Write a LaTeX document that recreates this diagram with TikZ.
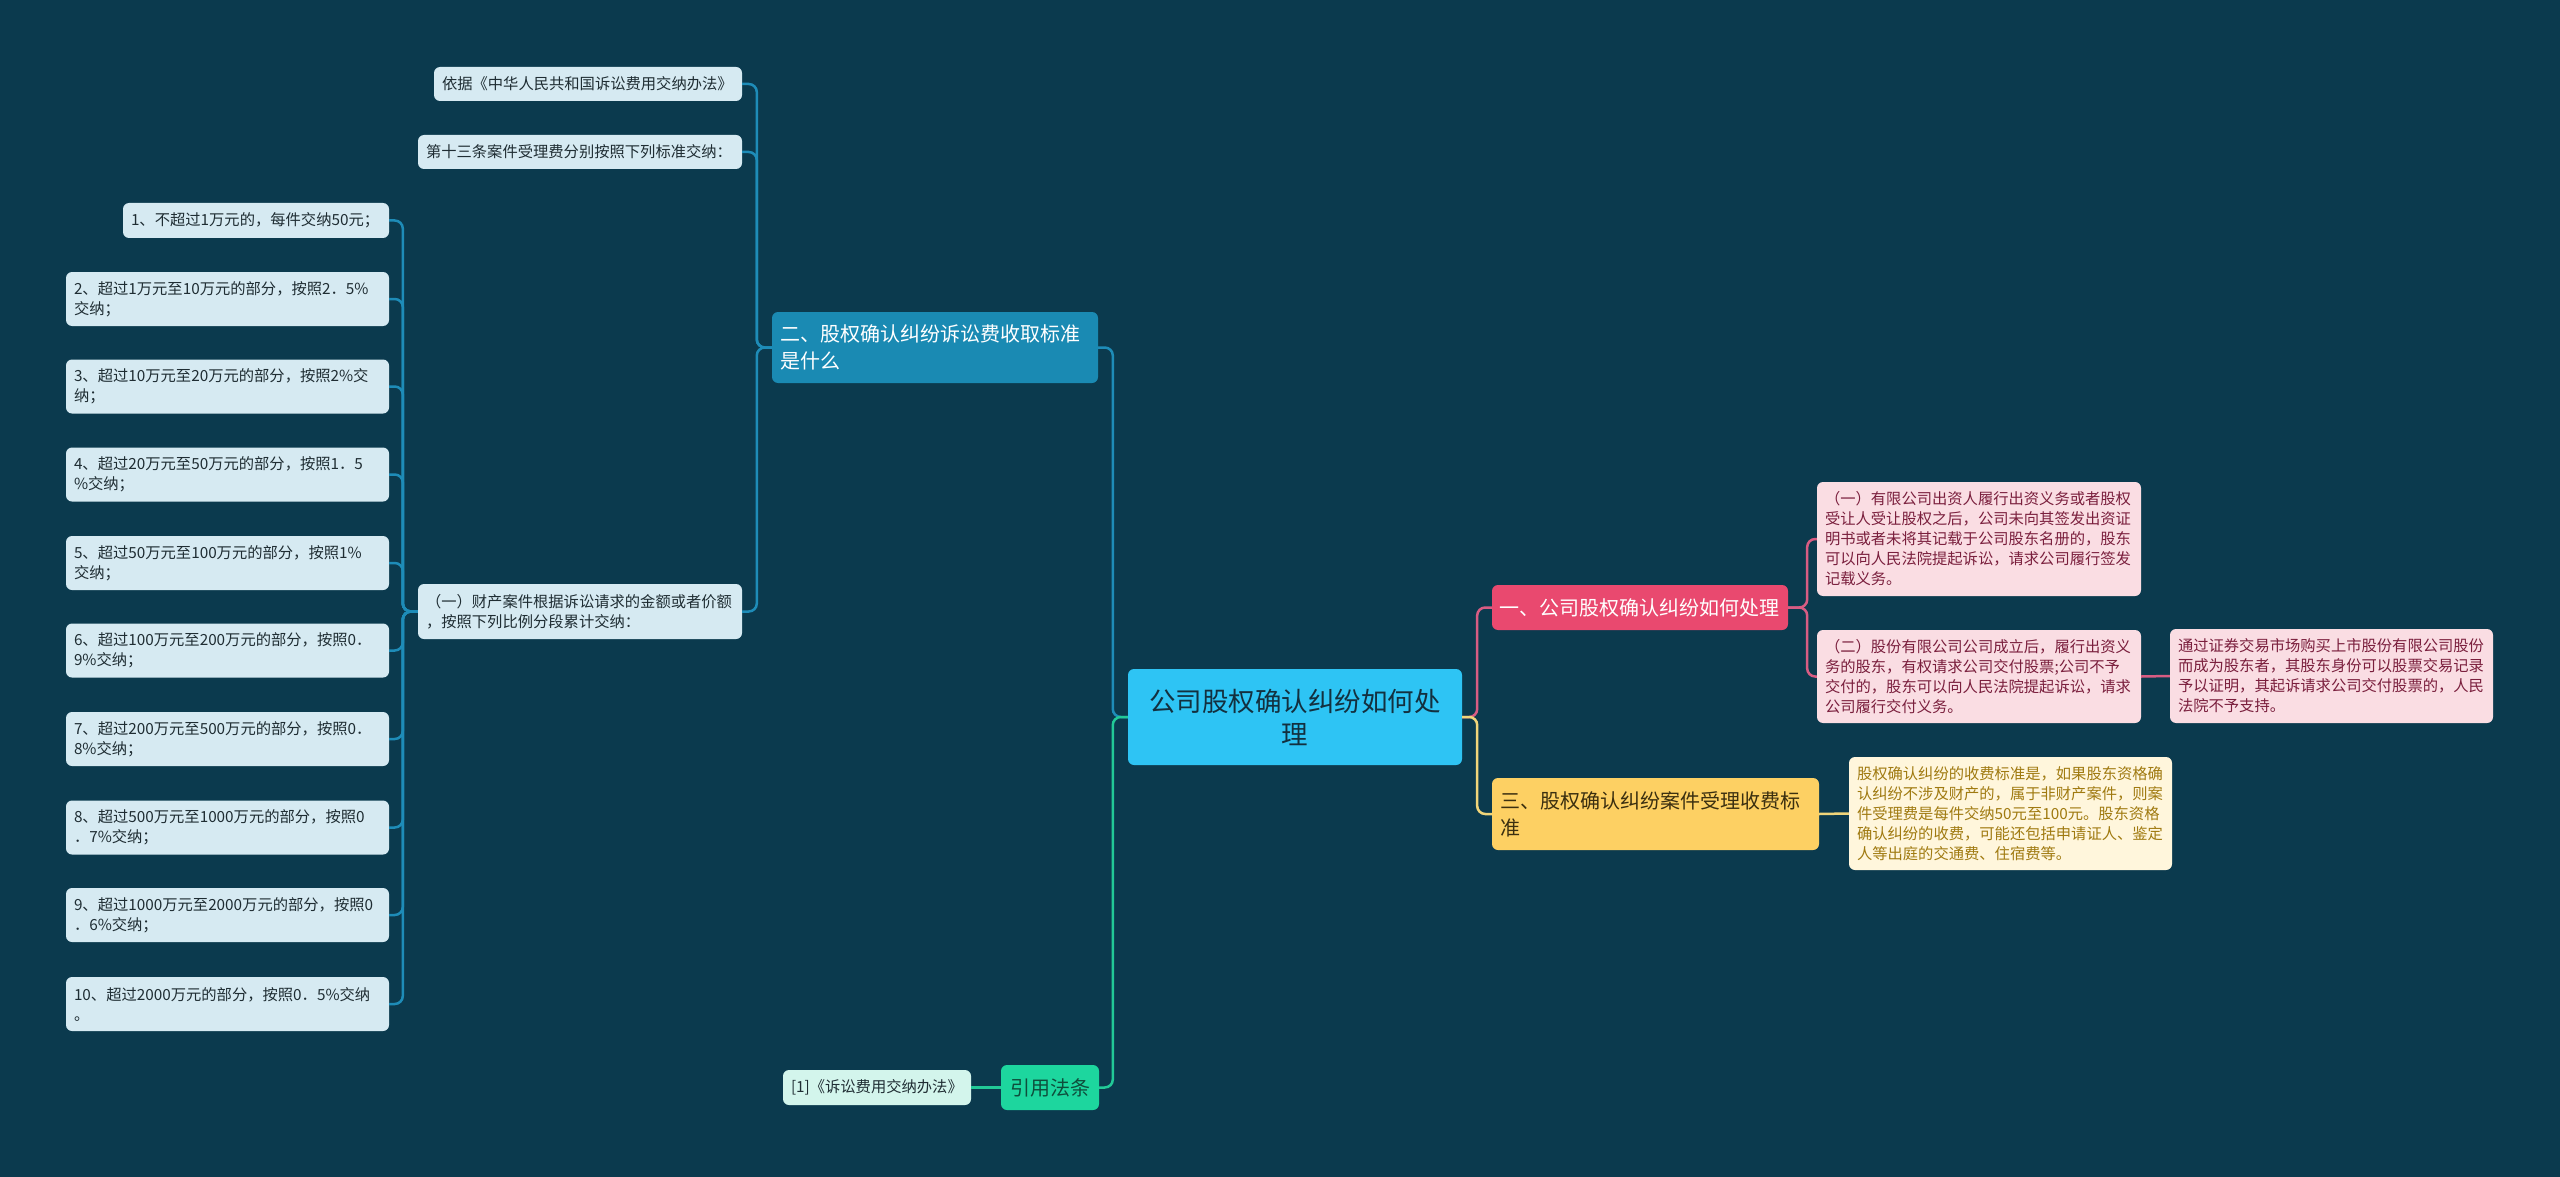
\documentclass[tikz,border=0pt]{standalone}
\usepackage{fontspec}
\setmainfont{Noto Sans CJK SC}
\definecolor{bg}{HTML}{0B3A4E}
\definecolor{cfill}{HTML}{2EC4F4}
\definecolor{ctext}{HTML}{13303F}
\definecolor{bfill}{HTML}{1A8AB3}
\definecolor{bleaf}{HTML}{D6EAF2}
\definecolor{btext}{HTML}{1F2D33}
\definecolor{bline}{HTML}{1E8CB8}
\definecolor{pfill}{HTML}{E9496F}
\definecolor{pleaf}{HTML}{FADDE3}
\definecolor{ptext}{HTML}{7A1F3D}
\definecolor{pline}{HTML}{D85C83}
\definecolor{yfill}{HTML}{FDD063}
\definecolor{yleaf}{HTML}{FFF6DC}
\definecolor{ytext}{HTML}{A07A10}
\definecolor{ydark}{HTML}{3B2F10}
\definecolor{yline}{HTML}{F0D57A}
\definecolor{gfill}{HTML}{1DD69E}
\definecolor{gleaf}{HTML}{D3F5EC}
\definecolor{gtext}{HTML}{0E4E3C}
\definecolor{gline}{HTML}{22C997}
\tikzset{
  box/.style={rounded corners=6pt, inner xsep=8pt, inner ysep=0pt, anchor=center, align=left},
  smalltxt/.style={font=\fontsize{15.3}{20}\selectfont},
  bigtxt/.style={font=\fontsize{20}{27}\selectfont},
  bleafbox/.style={box, smalltxt, fill=bleaf, text=btext},
  pleafbox/.style={box, smalltxt, fill=pleaf, text=ptext},
  yleafbox/.style={box, smalltxt, fill=yleaf, text=ytext},
  gleafbox/.style={box, smalltxt, fill=gleaf, text=btext},
  conn/.style={line width=2.5pt, rounded corners=8pt},
}
\begin{document}
\begin{tikzpicture}[x=1pt, y=-1pt]
\fill[bg] (0,0) rectangle (2560,1177);
% central
\node[box, align=center, fill=cfill, text=ctext, font=\fontsize{26.5}{33}\selectfont, text width=318pt, minimum height=96pt] (c) at (1295,717) {公司股权确认纠纷如何处\\理};
% main branches
\node[box, bigtxt, fill=bfill, text=white, text width=310pt, minimum height=71pt] (n2) at (935,347.5) {二、股权确认纠纷诉讼费收取标准\\是什么};
\node[box, bigtxt, fill=pfill, text=white, inner xsep=7pt, text width=282pt, minimum height=45pt] (n1) at (1640,607.5) {一、公司股权确认纠纷如何处理};
\node[box, bigtxt, fill=yfill, text=ydark, text width=311pt, minimum height=72pt] (n3) at (1655.5,814) {三、股权确认纠纷案件受理收费标\\准};
\node[box, bigtxt, align=center, fill=gfill, text=gtext, text width=82pt, minimum height=45pt] (ng) at (1050,1087.5) {引用法条};
% green leaf
\node[gleafbox, text width=172pt, minimum height=35pt] (r1) at (877,1087.5) {[1]《诉讼费用交纳办法》};
% pink leaves
\node[pleafbox, text width=308pt, minimum height=114pt] (p1) at (1979,539) {（一）有限公司出资人履行出资义务或者股权\\受让人受让股权之后，公司未向其签发出资证\\明书或者未将其记载于公司股东名册的，股东\\可以向人民法院提起诉讼，请求公司履行签发\\记载义务。};
\node[pleafbox, text width=308pt, minimum height=93pt] (p2) at (1979,676.5) {（二）股份有限公司公司成立后，履行出资义\\务的股东，有权请求公司交付股票;公司不予\\交付的，股东可以向人民法院提起诉讼，请求\\公司履行交付义务。};
\node[pleafbox, text width=307pt, minimum height=94pt] (p3) at (2331.5,676) {通过证券交易市场购买上市股份有限公司股份\\而成为股东者，其股东身份可以股票交易记录\\予以证明，其起诉请求公司交付股票的，人民\\法院不予支持。};
% yellow leaf
\node[yleafbox, text width=307pt, minimum height=113pt] (y1) at (2010.5,813.5) {股权确认纠纷的收费标准是，如果股东资格确\\认纠纷不涉及财产的，属于非财产案件，则案\\件受理费是每件交纳50元至100元。股东资格\\确认纠纷的收费，可能还包括申请证人、鉴定\\人等出庭的交通费、住宿费等。};
% blue leaves
\node[bleafbox, text width=292pt, minimum height=34pt] (la) at (588,84) {依据《中华人民共和国诉讼费用交纳办法》};
\node[bleafbox, text width=308pt, minimum height=34pt] (lb) at (580,152) {第十三条案件受理费分别按照下列标准交纳：};
\node[bleafbox, text width=308pt, minimum height=55pt] (lc) at (580,611.5) {（一）财产案件根据诉讼请求的金额或者价额\\，按照下列比例分段累计交纳：};
\node[bleafbox, text width=250pt, minimum height=35pt] (i1) at (256,220.5) {1、不超过1万元的，每件交纳50元；};
\node[bleafbox, text width=307pt, minimum height=54pt] (i2) at (227.5,299) {2、超过1万元至10万元的部分，按照2．5\%\\交纳；};
\node[bleafbox, text width=307pt, minimum height=54pt] (i3) at (227.5,386.5) {3、超过10万元至20万元的部分，按照2\%交\\纳；};
\node[bleafbox, text width=307pt, minimum height=54pt] (i4) at (227.5,474.5) {4、超过20万元至50万元的部分，按照1．5\\\%交纳；};
\node[bleafbox, text width=307pt, minimum height=54pt] (i5) at (227.5,563) {5、超过50万元至100万元的部分，按照1\%\\交纳；};
\node[bleafbox, text width=307pt, minimum height=54pt] (i6) at (227.5,650.5) {6、超过100万元至200万元的部分，按照0．\\9\%交纳；};
\node[bleafbox, text width=307pt, minimum height=54pt] (i7) at (227.5,739) {7、超过200万元至500万元的部分，按照0．\\8\%交纳；};
\node[bleafbox, text width=307pt, minimum height=54pt] (i8) at (227.5,827.5) {8、超过500万元至1000万元的部分，按照0\\．7\%交纳；};
\node[bleafbox, text width=307pt, minimum height=54pt] (i9) at (227.5,915) {9、超过1000万元至2000万元的部分，按照0\\．6\%交纳；};
\node[bleafbox, text width=307pt, minimum height=54pt] (i10) at (227.5,1004) {10、超过2000万元的部分，按照0．5\%交纳\\。};
% connectors
\draw[conn, bline] (c.west) -- ++(-15,0) |- (n2.east);
\draw[conn, gline] (c.west) -- ++(-15,0) |- (ng.east);
\draw[conn, pline] (c.east) -- ++(15,0) |- (n1.west);
\draw[conn, yline] (c.east) -- ++(15,0) |- (n3.west);
\draw[conn, gline] (ng.west) -- (r1.east);
\draw[conn, pline] (n1.east) -- ++(19,0) |- (p1.west);
\draw[conn, pline] (n1.east) -- ++(19,0) |- (p2.west);
\draw[conn, pline] (p2.east) -- (p3.west);
\draw[conn, yline] (n3.east) -- (y1.west);
\foreach \t in {la,lb,lc}{
  \draw[conn, bline] (n2.west) -- ++(-15,0) |- (\t.east);
}
\foreach \t in {i1,i2,i3,i4,i5,i6,i7,i8,i9,i10}{
  \draw[conn, bline] (lc.west) -- ++(-15,0) |- (\t.east);
}
\end{tikzpicture}
\end{document}
